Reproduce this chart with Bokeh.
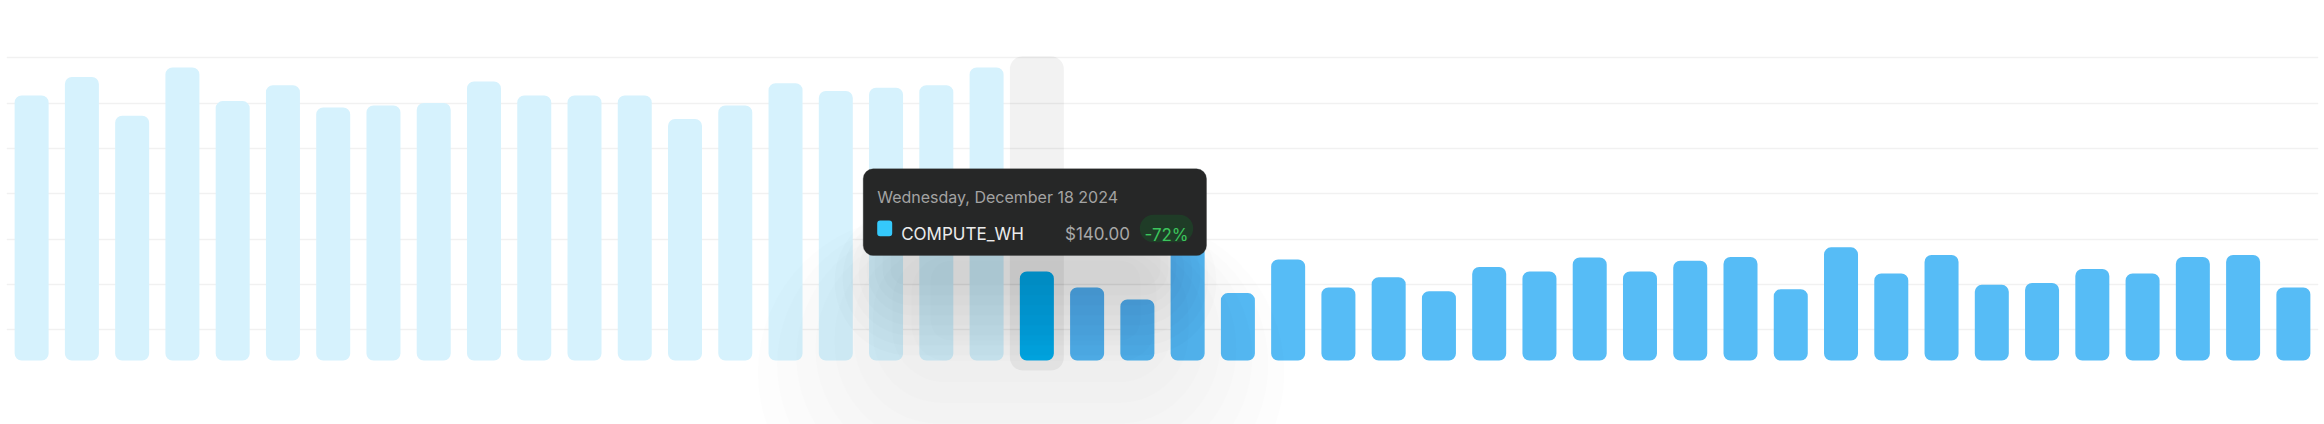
from bokeh.plotting import figure
from bokeh.models import Range1d, BoxAnnotation, Label, Grid, FixedTicker, ColumnDataSource
from bokeh.embed import file_html
from bokeh.resources import INLINE

# ---------------- data ----------------
days = list(range(46))
cost = [417, 446, 385, 461, 408, 433, 398, 401, 405, 439,
        417, 417, 417, 380, 401, 436, 424, 429, 433, 461,
        140, 115, 96, 181, 106, 159, 115, 131, 109, 147,
        140, 162, 140, 157, 163, 112, 178, 137, 166, 119,
        122, 144, 137, 163, 166, 115]
grid_values = [48, 120, 191, 262, 333, 405, 476]
hover_index = 20
tooltip_date = "Wednesday, December 18 2024"
series_name = "COMPUTE_WH"
tooltip_value = "$140.00"
tooltip_change = "-72%"

# ---------------- layout ----------------
W, H = 2324, 424
PAD = 6           # horizontal border around the frame
N = len(days)
BAND = (W - 2 * PAD) / N   # px per day
BASE = 360.0      # px of zero line from top
YS = 1.573        # dollars per px

def sx(px):  # page px -> data x
    return (px - PAD) / BAND - 0.5

def sy(py):  # page px -> data y
    return (BASE - py) * YS

p = figure(width=W, height=H, output_backend="svg", toolbar_location=None,
           x_range=Range1d(-0.5, N - 0.5),
           y_range=Range1d(-(H - BASE) * YS, BASE * YS),
           x_axis_location=None, y_axis_location=None,
           min_border=0, min_border_left=PAD, min_border_right=PAD,
           outline_line_color=None,
           background_fill_color="white", border_fill_color="white")
p.xgrid.grid_line_color = None
p.ygrid.grid_line_color = None
p.add_layout(Grid(dimension=1, ticker=FixedTicker(ticks=grid_values),
                  grid_line_color="#f1f1f1", grid_line_width=1.3), "center")

# hover column highlight
p.vbar(x=[hover_index], width=54 / BAND, bottom=-10 * YS, top=sy(55.7),
       fill_color="black", fill_alpha=0.05, line_color=None, border_radius=13)

colors = ["#d6f2fd" if i < hover_index else ("#08b4ef" if i == hover_index else "#56bcf6")
          for i in days]
src = ColumnDataSource(dict(x=days, top=cost, color=colors))
p.vbar(x="x", top="top", bottom=0, width=34 / BAND, source=src,
       fill_color="color", line_color=None, border_radius=7)

# soft drop shadow of tooltip: a tight layer and a broad layer
def shadow(core, k_layers, step, peak, fl, fr, ft, fb, r0):
    l, r, t, b = core
    a = 1 - (1 - peak) ** (1.0 / k_layers)
    for k in range(k_layers):
        e = k * step
        p.add_layout(BoxAnnotation(left=sx(l - e * fl), right=sx(r + e * fr),
                                   top=sy(t - e * ft), bottom=sy(b + e * fb),
                                   fill_color="black", fill_alpha=a,
                                   line_color=None, border_radius=r0 + e))

shadow((890, 1160, 235, 285), 8, 10, 0.09, 0.8, 0.8, 0.4, 1.0, 16)
shadow((930, 1140, 260, 340), 10, 16, 0.07, 1.2, 1.0, 0.3, 1.3, 20)

# tooltip box
p.add_layout(BoxAnnotation(left=sx(862.7), right=sx(1206), top=sy(168.3), bottom=sy(255),
                           fill_color="#262727", fill_alpha=1.0,
                           line_color="#333434", line_width=1, border_radius=10))
# change pill
p.add_layout(BoxAnnotation(left=sx(1139.3), right=sx(1192.7), top=sy(214.3), bottom=sy(241.7),
                           fill_color="#1f3c27", fill_alpha=1.0,
                           line_color=None, border_radius=14))
# series swatch
p.add_layout(BoxAnnotation(left=sx(876.7), right=sx(891.7), top=sy(220), bottom=sy(235.7),
                           fill_color="#35c9fb", fill_alpha=1.0,
                           line_color=None, border_radius=3))

p.add_layout(Label(x=sx(876.7), y=sy(196.7), text=tooltip_date, text_font="Inter",
                   text_font_size="16px", text_color="#a3a3a3",
                   text_align="left", text_baseline="alphabetic"))
p.add_layout(Label(x=sx(900.7), y=sy(233.4), text=series_name, text_font="Inter",
                   text_font_size="17px", text_color="#ececec",
                   text_align="left", text_baseline="alphabetic"))
p.add_layout(Label(x=sx(1129.5), y=sy(233.4), text=tooltip_value, text_font="Inter",
                   text_font_size="17px", text_color="#a8a8a8",
                   text_align="right", text_baseline="alphabetic"))
p.add_layout(Label(x=sx(1166), y=sy(234.6), text=tooltip_change, text_font="Inter",
                   text_font_size="17px", text_color="#3cc45c",
                   text_align="center", text_baseline="alphabetic"))

open("out.html", "w").write(file_html(p, INLINE))
